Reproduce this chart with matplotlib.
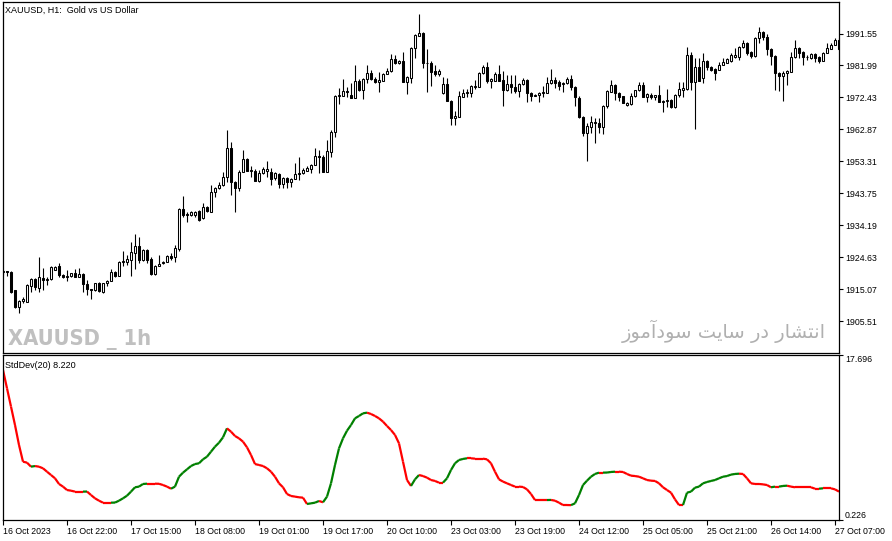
import matplotlib
matplotlib.use('Agg')
import matplotlib.pyplot as plt
from matplotlib.collections import LineCollection
from matplotlib import font_manager
import numpy as np

plt.rcParams['font.family'] = ['Liberation Sans', 'DejaVu Sans']

# ---------------- data ----------------
open_ = [
    1920.2, 1920.4, 1920.2, 1914.9, 1909.9, 1911.6, 1911.4, 1916.1, 1918.1, 1915.4,
    1918.5, 1917.8, 1918.2, 1920.8, 1922.0, 1919.3, 1918.8, 1919.0, 1920.0, 1918.8,
    1919.6, 1916.7, 1915.1, 1914.9, 1916.9, 1914.3, 1916.9, 1917.5, 1920.2, 1919.0,
    1923.1, 1923.3, 1923.8, 1926.0, 1928.0, 1923.8, 1926.8, 1924.0, 1919.6, 1922.0,
    1922.8, 1923.3, 1925.0, 1924.6, 1927.0, 1939.1, 1937.3, 1937.3, 1937.3, 1938.5,
    1936.4, 1939.7, 1938.3, 1944.3, 1945.3, 1946.3, 1948.7, 1957.2, 1947.1, 1945.3,
    1950.2, 1954.0, 1950.5, 1950.5, 1947.4, 1949.8, 1950.3, 1950.1, 1948.3, 1949.5,
    1946.5, 1948.3, 1947.1, 1948.0, 1949.5, 1949.8, 1950.5, 1950.9, 1952.2, 1954.9,
    1954.7, 1950.2, 1956.2, 1962.0, 1973.0, 1973.0, 1974.4, 1973.2, 1972.4, 1977.4,
    1974.7, 1977.9, 1979.6, 1977.9, 1977.1, 1977.4, 1979.4, 1980.3, 1983.9, 1982.6,
    1983.3, 1977.1, 1978.3, 1987.3, 1990.9, 1991.6, 1982.6, 1982.8, 1980.4, 1979.4,
    1973.9, 1976.4, 1971.5, 1966.2, 1966.7, 1972.7, 1973.9, 1973.9, 1975.6, 1975.6,
    1979.6, 1981.4, 1977.4, 1977.4, 1979.4, 1977.6, 1974.7, 1976.4, 1975.6, 1974.4,
    1976.4, 1977.6, 1973.8, 1972.9, 1973.1, 1973.9, 1973.9, 1976.7, 1977.6, 1977.1,
    1976.4, 1976.7, 1977.9, 1975.6, 1972.4, 1966.7, 1961.9, 1963.7, 1965.2, 1964.7,
    1963.7, 1969.9, 1974.1, 1976.2, 1973.7, 1972.9, 1970.1, 1970.5, 1972.9, 1974.7,
    1976.2, 1972.7, 1973.3, 1972.5, 1973.2, 1971.2, 1971.5, 1971.7, 1969.5, 1973.2,
    1974.7, 1974.9, 1985.1, 1977.1, 1981.4, 1978.2, 1983.4, 1981.6, 1980.8, 1980.6,
    1982.1, 1982.8, 1983.4, 1984.6, 1984.6, 1987.4, 1988.6, 1986.1, 1984.8, 1990.1,
    1992.1, 1990.6, 1986.8, 1984.8, 1979.6, 1978.9, 1979.6, 1980.1, 1984.4, 1987.1,
    1986.1, 1984.4, 1984.1, 1985.4, 1984.6, 1983.4, 1985.8, 1986.8, 1988.1, 1989.6,
]
high = [
    1920.8, 1920.5, 1920.5, 1915.0, 1911.9, 1912.9, 1916.7, 1918.4, 1918.4, 1924.8,
    1921.3, 1918.8, 1922.0, 1922.1, 1923.0, 1919.6, 1920.8, 1920.0, 1921.0, 1921.5,
    1919.9, 1917.8, 1915.3, 1917.0, 1917.1, 1917.0, 1917.8, 1921.2, 1920.4, 1923.5,
    1926.5, 1925.3, 1929.1, 1931.7, 1930.8, 1927.1, 1927.1, 1924.8, 1922.3, 1925.3,
    1923.5, 1925.2, 1925.8, 1928.3, 1939.4, 1943.0, 1938.3, 1938.5, 1938.5, 1938.8,
    1940.9, 1940.0, 1946.3, 1945.7, 1947.2, 1950.2, 1962.7, 1959.2, 1947.4, 1950.7,
    1956.7, 1954.3, 1951.9, 1950.9, 1950.7, 1951.7, 1953.4, 1951.2, 1950.0, 1949.7,
    1948.6, 1948.5, 1948.3, 1952.7, 1954.7, 1951.4, 1951.9, 1952.5, 1957.2, 1956.7,
    1955.2, 1959.7, 1962.7, 1973.2, 1975.2, 1977.9, 1975.6, 1976.7, 1982.1, 1977.9,
    1978.2, 1982.1, 1980.6, 1978.6, 1980.1, 1979.6, 1981.1, 1985.3, 1985.1, 1983.6,
    1986.1, 1978.8, 1987.5, 1991.4, 1997.3, 1992.0, 1986.8, 1983.3, 1982.1, 1980.8,
    1978.6, 1978.3, 1971.7, 1968.5, 1974.4, 1974.9, 1974.9, 1976.2, 1977.6, 1980.0,
    1982.1, 1982.9, 1978.1, 1980.1, 1982.1, 1980.3, 1979.1, 1979.1, 1979.0, 1976.8,
    1978.2, 1977.9, 1974.1, 1973.5, 1974.1, 1975.9, 1978.6, 1980.8, 1978.6, 1977.6,
    1977.0, 1978.6, 1979.1, 1975.9, 1972.9, 1966.9, 1964.7, 1966.9, 1966.2, 1966.3,
    1970.2, 1974.7, 1977.6, 1976.5, 1974.1, 1973.0, 1971.1, 1973.7, 1974.8, 1977.1,
    1977.1, 1973.8, 1973.8, 1973.3, 1976.2, 1971.7, 1974.9, 1972.0, 1973.5, 1977.1,
    1977.1, 1987.6, 1986.1, 1984.1, 1984.1, 1985.8, 1983.6, 1981.8, 1981.2, 1983.1,
    1984.1, 1984.1, 1985.8, 1987.1, 1987.7, 1989.6, 1988.9, 1986.3, 1990.4, 1993.6,
    1992.3, 1991.4, 1987.1, 1985.1, 1980.0, 1980.3, 1980.6, 1986.1, 1989.6, 1987.4,
    1986.3, 1985.1, 1985.6, 1985.6, 1984.8, 1986.0, 1988.8, 1988.8, 1990.1, 1990.2,
]
low = [
    1919.3, 1919.0, 1914.0, 1909.4, 1908.1, 1910.9, 1911.3, 1914.3, 1914.9, 1914.3,
    1914.9, 1916.4, 1917.8, 1920.7, 1918.8, 1918.4, 1917.6, 1918.7, 1918.6, 1918.7,
    1914.3, 1913.4, 1912.3, 1914.6, 1914.4, 1913.9, 1916.1, 1917.4, 1918.7, 1918.9,
    1922.1, 1922.3, 1919.0, 1921.0, 1922.8, 1923.5, 1923.0, 1919.3, 1919.3, 1921.9,
    1922.5, 1923.2, 1923.8, 1923.3, 1926.5, 1936.7, 1935.3, 1937.0, 1936.8, 1935.5,
    1936.1, 1938.2, 1938.2, 1942.8, 1945.1, 1946.0, 1947.2, 1943.3, 1938.3, 1944.5,
    1950.0, 1950.3, 1948.7, 1947.4, 1947.1, 1949.5, 1948.7, 1946.3, 1947.7, 1945.3,
    1945.3, 1945.5, 1945.7, 1947.9, 1947.7, 1949.5, 1950.4, 1949.8, 1952.1, 1949.8,
    1950.1, 1950.1, 1954.7, 1960.7, 1970.4, 1972.9, 1972.7, 1972.3, 1972.3, 1974.4,
    1972.0, 1976.7, 1977.6, 1976.7, 1974.1, 1977.3, 1979.3, 1980.0, 1982.4, 1982.4,
    1977.0, 1973.4, 1976.7, 1984.1, 1990.8, 1981.1, 1974.1, 1975.9, 1978.8, 1978.8,
    1973.6, 1971.4, 1964.2, 1964.2, 1966.6, 1972.6, 1972.5, 1972.7, 1974.9, 1975.6,
    1979.4, 1976.8, 1975.2, 1977.3, 1977.3, 1969.9, 1974.5, 1973.7, 1973.7, 1972.5,
    1976.3, 1971.2, 1971.5, 1972.9, 1971.2, 1972.5, 1973.8, 1976.6, 1975.2, 1974.7,
    1974.1, 1976.6, 1974.7, 1969.9, 1966.3, 1960.9, 1953.5, 1961.7, 1958.9, 1961.7,
    1961.5, 1969.2, 1974.1, 1971.7, 1971.5, 1970.8, 1970.0, 1970.3, 1972.5, 1974.5,
    1972.6, 1971.2, 1972.0, 1971.7, 1971.1, 1968.2, 1969.7, 1969.3, 1969.3, 1972.6,
    1972.5, 1974.7, 1974.7, 1962.9, 1977.2, 1976.7, 1980.6, 1980.3, 1977.6, 1980.5,
    1982.0, 1982.7, 1983.1, 1984.1, 1983.6, 1987.3, 1985.1, 1984.1, 1984.6, 1988.6,
    1989.6, 1985.1, 1982.1, 1974.7, 1974.4, 1971.5, 1976.2, 1980.0, 1984.2, 1984.1,
    1982.1, 1983.6, 1983.8, 1983.1, 1982.8, 1983.3, 1985.7, 1986.8, 1988.0, 1986.6,
]
close = [
    1920.4, 1920.2, 1914.3, 1909.9, 1911.6, 1912.1, 1916.4, 1918.1, 1915.7, 1918.7,
    1917.8, 1918.1, 1921.6, 1921.8, 1919.3, 1918.8, 1919.0, 1919.9, 1918.8, 1919.6,
    1916.7, 1915.1, 1914.9, 1916.9, 1914.6, 1916.9, 1917.6, 1920.2, 1919.0, 1923.2,
    1923.5, 1924.1, 1926.3, 1928.0, 1923.8, 1926.8, 1923.8, 1919.6, 1922.0, 1922.6,
    1923.1, 1925.0, 1924.4, 1927.3, 1939.1, 1937.3, 1937.7, 1938.1, 1938.2, 1935.8,
    1939.8, 1938.5, 1944.3, 1945.3, 1946.3, 1948.7, 1957.2, 1947.1, 1945.3, 1950.2,
    1954.0, 1950.5, 1950.6, 1947.5, 1949.8, 1951.0, 1951.0, 1948.0, 1949.8, 1946.5,
    1948.4, 1947.1, 1948.0, 1949.5, 1949.7, 1950.7, 1951.2, 1952.2, 1954.9, 1954.6,
    1950.2, 1956.4, 1962.2, 1973.0, 1973.3, 1974.4, 1974.1, 1972.4, 1977.4, 1974.7,
    1977.9, 1979.6, 1977.9, 1977.1, 1977.5, 1979.4, 1980.3, 1983.9, 1982.6, 1983.3,
    1977.1, 1978.6, 1987.3, 1991.1, 1991.6, 1982.6, 1982.7, 1980.1, 1979.4, 1980.4,
    1976.4, 1971.5, 1966.2, 1966.9, 1972.9, 1973.9, 1974.0, 1975.9, 1975.9, 1979.8,
    1981.4, 1977.4, 1977.8, 1979.4, 1977.4, 1974.7, 1976.4, 1975.5, 1974.4, 1976.4,
    1977.6, 1973.9, 1972.9, 1973.3, 1973.9, 1974.1, 1976.8, 1977.6, 1976.8, 1975.9,
    1976.8, 1977.9, 1975.5, 1972.5, 1966.7, 1961.9, 1963.9, 1965.2, 1964.8, 1963.7,
    1969.9, 1974.4, 1976.2, 1973.7, 1972.7, 1970.9, 1970.9, 1972.9, 1974.7, 1976.2,
    1972.7, 1973.5, 1972.5, 1973.2, 1971.2, 1971.5, 1971.7, 1969.5, 1973.2, 1974.9,
    1975.2, 1985.1, 1977.1, 1981.4, 1977.4, 1983.4, 1981.4, 1980.6, 1979.6, 1982.1,
    1983.1, 1983.8, 1985.1, 1985.0, 1987.4, 1988.6, 1985.8, 1984.8, 1990.1, 1992.1,
    1990.6, 1986.8, 1984.8, 1979.6, 1978.9, 1979.6, 1980.4, 1984.4, 1987.1, 1985.8,
    1984.4, 1984.5, 1985.4, 1984.1, 1983.4, 1985.8, 1987.1, 1988.1, 1989.6, 1986.8,
]
stddev = [
    16.11, 14.17, 12.23, 10.28, 8.17, 6.40, 6.30, 5.87, 5.94, 5.87,
    5.70, 5.34, 4.99, 4.64, 4.04, 3.76, 3.40, 3.33, 3.23, 3.23,
    3.23, 3.24, 2.87, 2.52, 2.27, 2.06, 2.06, 2.06, 2.07, 2.27,
    2.52, 2.80, 3.23, 3.69, 3.76, 4.04, 4.07, 4.07, 4.07, 4.06,
    3.93, 3.76, 3.54, 3.76, 4.81, 5.24, 5.59, 5.94, 6.15, 6.23,
    6.65, 6.93, 7.46, 7.99, 8.41, 8.98, 9.93, 9.58, 9.12, 8.87,
    8.52, 7.92, 7.11, 6.15, 6.05, 5.94, 5.70, 5.34, 4.81, 4.11,
    3.69, 2.98, 2.77, 2.70, 2.63, 2.59, 1.92, 1.99, 2.06, 2.24,
    2.10, 2.70, 4.11, 6.05, 7.81, 8.87, 9.68, 10.28, 10.99, 11.24,
    11.52, 11.59, 11.45, 11.24, 10.99, 10.64, 10.18, 9.75, 9.23, 8.34,
    6.40, 4.46, 3.83, 4.53, 4.99, 4.88, 4.71, 4.46, 4.36, 4.18,
    4.18, 4.64, 5.52, 6.23, 6.58, 6.69, 6.76, 6.76, 6.72, 6.72,
    6.72, 6.65, 6.23, 5.34, 4.53, 4.29, 4.11, 3.93, 3.76, 3.76,
    3.72, 3.47, 2.98, 2.34, 2.34, 2.34, 2.34, 2.35, 2.27, 2.06,
    1.81, 1.81, 1.80, 1.99, 2.87, 3.93, 4.39, 4.81, 5.10, 5.24,
    5.24, 5.25, 5.31, 5.34, 5.34, 5.31, 5.10, 4.92, 4.88, 4.81,
    4.64, 4.46, 4.39, 4.36, 4.11, 3.69, 3.40, 3.12, 2.41, 1.81,
    1.81, 3.12, 3.23, 3.65, 3.76, 4.11, 4.25, 4.36, 4.46, 4.64,
    4.81, 4.88, 5.03, 5.10, 5.13, 5.10, 4.64, 4.11, 4.04, 4.04,
    4.00, 3.93, 3.69, 3.76, 3.76, 3.83, 3.86, 3.76, 3.69, 3.69,
    3.69, 3.69, 3.69, 3.54, 3.54, 3.58, 3.58, 3.58, 3.47, 3.23,
]
time_labels = ["16 Oct 2023", "16 Oct 22:00", "17 Oct 15:00", "18 Oct 08:00",
               "19 Oct 01:00", "19 Oct 17:00", "20 Oct 10:00", "23 Oct 03:00",
               "23 Oct 19:00", "24 Oct 12:00", "25 Oct 05:00", "25 Oct 21:00",
               "26 Oct 14:00", "27 Oct 07:00"]
time_label_bars = [0, 16, 32, 48, 64, 80, 96, 112, 128, 144, 160, 176, 192, 208]
price_ticks = [1905.51, 1915.07, 1924.63, 1934.19, 1943.75, 1953.31,
               1962.87, 1972.43, 1981.99, 1991.55]
sd_ticks = [0.226, 17.696]
sd_last = 8.220

# ---------------- figure ----------------
W, H = 892, 541
fig = plt.figure(figsize=(W / 100, H / 100), dpi=100)
fig.patch.set_facecolor('white')
ax1 = fig.add_axes([3 / W, (H - 353) / H, 836 / W, 351 / H])
ax2 = fig.add_axes([3 / W, (H - 520) / H, 836 / W, 165 / H])

o = np.array(open_)
c = np.array(close)
hi = np.array(high)
lo = np.array(low)
x = np.arange(len(c))

for ax in (ax1, ax2):
    ax.set_xlim(0, 209)
    ax.set_facecolor('white')
    for s in ax.spines.values():
        s.set_linewidth(0.9)
        s.set_color('black')

# candles
ax1.vlines(x, lo, hi, color='black', linewidth=0.8, zorder=2)
up = c >= o
ax1.bar(x[up], (c - o)[up], bottom=o[up], width=0.5, facecolor='white',
        edgecolor='black', linewidth=0.75, zorder=3)
ax1.bar(x[~up], (o - c)[~up], bottom=c[~up], width=0.5, facecolor='black',
        edgecolor='black', linewidth=0.75, zorder=3)
ax1.set_ylim(1896.02, 2000.97)
ax1.set_xticks([])
ax1.yaxis.tick_right()
ax1.set_yticks(price_ticks)
ax1.set_yticklabels([f"{v:.2f}" for v in price_ticks])
ax1.tick_params(axis='y', direction='out', length=3, width=0.8, labelsize=6.3,
                pad=1.2, colors='black')

# std dev line
sd = np.array(stddev)
pts = np.column_stack([x, sd])
segs = np.stack([pts[:-1], pts[1:]], axis=1)
cols = ['#008000' if sd[i + 1] > sd[i] else '#ff0000' for i in range(len(sd) - 1)]
lc = LineCollection(segs, colors=cols, linewidths=1.6, capstyle='butt')
ax2.add_collection(lc)
ax2.set_ylim(sd_ticks[0], sd_ticks[1])
ax2.yaxis.tick_right()
ax2.set_yticks(sd_ticks)
ax2.set_yticklabels([f"{v:.3f}" for v in sd_ticks])
ax2.tick_params(axis='y', direction='out', length=3, width=0.8, labelsize=6.3,
                pad=1.2, colors='black')
ylabs = ax2.get_yticklabels()
ylabs[0].set_va('bottom')
ylabs[1].set_va('top')

ax2.set_xticks(time_label_bars)
ax2.set_xticklabels(time_labels)
ax2.tick_params(axis='x', direction='out', length=3.5, width=0.8, labelsize=6.3,
                pad=1.5, colors='black')
for lab in ax2.get_xticklabels():
    lab.set_ha('left')

# texts
fig.text(5 / W, 1 - 10 / H, "XAUUSD, H1:  Gold vs US Dollar", fontsize=6.5,
         va='center', ha='left', color='black')
fig.text(5 / W, 1 - 365 / H, f"StdDev(20) {sd_last:.3f}", fontsize=6.5,
         va='center', ha='left', color='black')

# watermark: prefer a condensed bold face if one is installed
narrow = None
for f in font_manager.fontManager.ttflist:
    nm = f.name.lower()
    fn = f.fname.lower()
    is_narrow = ('narrow' in nm or 'condensed' in nm or 'narrow' in fn
                 or 'condensed' in fn) and 'semi' not in fn and 'extra' not in fn
    if is_narrow and (f.weight in ('bold', 700) or 'bold' in fn):
        narrow = f.fname
        break
if narrow is not None:
    wm_props = font_manager.FontProperties(fname=narrow, size=23)
else:
    wm_props = font_manager.FontProperties(family=['Liberation Sans', 'DejaVu Sans'],
                                           weight='bold', size=23)
wm = fig.text(8 / W, 1 - 345 / H, "XAUUSD _ 1h", fontproperties=wm_props,
              color='#c0c0c0', va='baseline', ha='left')
renderer = fig.canvas.get_renderer()
wpx = wm.get_window_extent(renderer).width
if wpx > 146:
    wm.set_fontsize(23 * 144 / wpx)

persian = ("\uFEAF\uFEEE\uFEE3\uFE81\uFEA9\uFEEE\uFEB3 "
           "\uFE96\uFBFE\uFE8E\uFEB3 \uFEAD\uFEA9 "
           "\uFEAD\uFE8E\uFEB8\uFE98\uFEE7\uFE8D")
fig.text(826 / W, 1 - 338 / H, persian, fontsize=14, family=['DejaVu Sans'],
         color='#b0b0b0', va='baseline', ha='right')

fig.savefig('out.png', dpi=100, facecolor='white')
